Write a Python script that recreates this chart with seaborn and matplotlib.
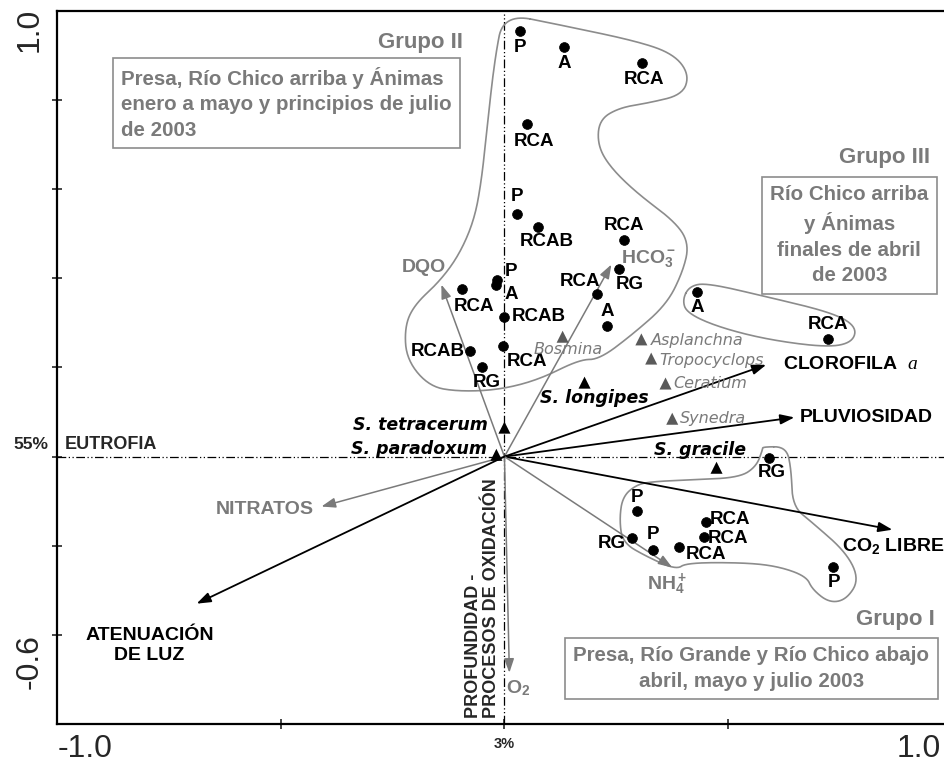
import numpy as np
import pandas as pd
import matplotlib
matplotlib.use("Agg")
import matplotlib.pyplot as plt
import seaborn as sns

# --- muestras (sitios) ---
muestra_nombre = ['P', 'A', 'RCA', 'RCA', 'P', 'RCAB', 'RCA', 'RG', 'RCA', 'A',
                  'P', 'A', 'RCA', 'RCAB', 'RCA', 'RCAB', 'RG',
                  'A', 'RCA',
                  'RG', 'P', 'RG', 'P', 'RCA', 'RCA', 'RCA', 'P']
muestra_x = [0.034, 0.134, 0.308, 0.051, 0.029, 0.074, 0.268, 0.257, 0.206, 0.230,
             -0.016, -0.018, -0.094, 0.0, -0.004, -0.076, -0.051,
             0.431, 0.722,
             0.592, 0.297, 0.284, 0.331, 0.391, 0.451, 0.445, 0.735]
muestra_y = [0.954, 0.920, 0.884, 0.747, 0.545, 0.516, 0.485, 0.422, 0.364, 0.294,
             0.397, 0.384, 0.375, 0.314, 0.249, 0.236, 0.200,
             0.370, 0.265,
             -0.002, -0.123, -0.182, -0.209, -0.202, -0.146, -0.180, -0.247]
# desplazamiento de etiqueta (pixeles) y alineacion
muestra_off = [(0, -16, 'center'), (0, -17, 'center'), (2, -17, 'center'), (7, -18, 'center'),
               (0, 17, 'center'), (9, -15, 'center'), (0, 15, 'center'), (10, -16, 'center'),
               (-17, 13, 'center'), (0, 14, 'center'), (14, 8, 'center'), (15, -9, 'center'),
               (12, -17, 'center'), (7, 0, 'left'), (24, -16, 'center'), (-6, 0, 'right'),
               (5, -15, 'center'), (0, -16, 'center'), (0, 14, 'center'), (2, -15, 'center'),
               (0, 14, 'center'), (-6, -6, 'right'), (0, 15, 'center'), (6, -8, 'left'),
               (4, 2, 'left'), (4, -2, 'left'), (1, -16, 'center')]

# --- especies ---
especie_nombre = ['Bosmina', 'S. longipes', 'S. tetracerum', 'S. paradoxum', 'Asplanchna',
                  'Tropocyclops', 'Ceratium', 'Synedra', 'S. gracile']
especie_x = [0.130, 0.179, 0.0, -0.018, 0.306, 0.328, 0.360, 0.375, 0.474]
especie_y = [0.269, 0.166, 0.065, 0.004, 0.263, 0.220, 0.164, 0.085, -0.025]
especie_tipo = ['gris', 'negro', 'negro', 'negro', 'gris', 'gris', 'gris', 'gris', 'negro']
especie_off = [(6, -13, 'center'), (10, -15, 'center'), (-17, 3, 'right'), (-9, 6, 'right'),
               (9, -1, 'left'), (8, -2, 'left'), (8, 0, 'left'), (8, 0, 'left'), (-17, 18, 'center')]

# --- variables ambientales (flechas) ---
var_nombre = ['DQO', 'HCO$_3^-$', 'CLOROFILA  $\\mathit{a}$', 'PLUVIOSIDAD',
              '$\\mathbf{CO_2}$ LIBRE', 'NH$_4^+$', 'O$_2$', 'NITRATOS', 'ATENUACIÓN\nDE LUZ']
var_x = [-0.141, 0.239, 0.585, 0.648, 0.867, 0.375, 0.011, -0.409, -0.688]
var_y = [0.386, 0.431, 0.206, 0.088, -0.164, -0.249, -0.485, -0.112, -0.330]
var_tipo = ['gris', 'gris', 'negro', 'negro', 'negro', 'gris', 'gris', 'gris', 'negro']
var_off = [(-17, 17, 'center'), (10, 5, 'left'), (17, 0, 'left'), (5, 0, 'left'),
           (-50, -16, 'left'), (-5, -17, 'center'), (-3, -15, 'left'), (-8, -3, 'right'),
           (-47, -42, 'center')]

# --- contornos de grupos ---
grupo2_x = [-0.002, 0.123, 0.302, 0.380, 0.413, 0.398, 0.324, 0.257, 0.212, 0.208, 0.235,
            0.295, 0.384, 0.413, 0.398, 0.362, 0.286, 0.212, 0.168, 0.078, -0.011, -0.101,
            -0.168, -0.219, -0.223, -0.201, -0.145, -0.101, -0.067, -0.051, -0.040, -0.022]
grupo2_y = [0.994, 0.969, 0.931, 0.902, 0.857, 0.812, 0.794, 0.783, 0.756, 0.700, 0.651,
            0.592, 0.525, 0.476, 0.413, 0.341, 0.274, 0.218, 0.218, 0.173, 0.150, 0.146,
            0.157, 0.218, 0.292, 0.341, 0.393, 0.453, 0.532, 0.622, 0.727, 0.891]
grupo3_x = [0.398, 0.413, 0.451, 0.585, 0.733, 0.787, 0.778, 0.720, 0.585, 0.474, 0.407]
grupo3_y = [0.352, 0.382, 0.390, 0.359, 0.323, 0.292, 0.256, 0.245, 0.263, 0.292, 0.323]
grupo1_x = [0.577, 0.630, 0.641, 0.644, 0.688, 0.764, 0.793, 0.764, 0.726, 0.688, 0.675,
            0.615, 0.541, 0.407, 0.384, 0.317, 0.264, 0.257, 0.264, 0.295, 0.331, 0.420,
            0.525, 0.563, 0.577]
grupo1_y = [0.022, 0.022, -0.029, -0.112, -0.148, -0.215, -0.276, -0.321, -0.328, -0.298,
            -0.269, -0.247, -0.238, -0.238, -0.254, -0.224, -0.193, -0.141, -0.090, -0.063,
            -0.056, -0.052, -0.047, -0.022, 0.016]

GRIS = '#7a7a7a'
GRIS_OSC = '#5a5a5a'


def suavizar(xs, ys, n=4):
    # Chaikin para curvas cerradas
    p = np.column_stack([xs, ys])
    for _ in range(n):
        q = np.roll(p, -1, axis=0)
        a = 0.75 * p + 0.25 * q
        b = 0.25 * p + 0.75 * q
        p = np.empty((2 * len(a), 2))
        p[0::2] = a
        p[1::2] = b
    p = np.vstack([p, p[:1]])
    return p[:, 0], p[:, 1]


sns.set_theme(style='white')
plt.rcParams['font.family'] = ['Liberation Sans', 'DejaVu Sans']
plt.rcParams['mathtext.fontset'] = 'custom'
plt.rcParams['mathtext.rm'] = 'Liberation Sans:bold'
plt.rcParams['mathtext.bf'] = 'Liberation Sans:bold'
plt.rcParams['mathtext.it'] = 'Liberation Serif:italic'

fig = plt.figure(figsize=(9.45, 7.73), dpi=100)
ax = fig.add_axes([0.0603, 0.0634, 0.947, 0.9224])
ax.set_xlim(-1.0, 1.0)
ax.set_ylim(-0.6, 1.0)

# lineas de referencia
ax.axhline(0, color='black', lw=0.9, ls=(0, (7, 2, 1, 2, 1, 2)), zorder=1)
ax.axvline(0, color='black', lw=0.9, ls=(0, (7, 2, 1, 2, 1, 2)), zorder=1)

# contornos
for gx, gy in [(grupo2_x, grupo2_y), (grupo3_x, grupo3_y), (grupo1_x, grupo1_y)]:
    sx, sy = suavizar(gx, gy)
    ax.plot(sx, sy, color='#8c8c8c', lw=1.2, zorder=2)

# flechas
for nom, vx, vy, t, (dx, dy, ha) in zip(var_nombre, var_x, var_y, var_tipo, var_off):
    col = 'black' if t == 'negro' else GRIS
    ax.annotate('', xy=(vx, vy), xytext=(0, 0),
                arrowprops=dict(arrowstyle='-|>,head_length=0.7,head_width=0.25',
                                color=col, lw=1.3 if t == 'negro' else 1.1,
                                shrinkA=0, shrinkB=0), zorder=3)
    ax.annotate(nom, xy=(vx, vy), xytext=(dx, dy), textcoords='offset pixels',
                ha=ha, va='center', fontsize=14, color=col, fontweight='bold', zorder=5)

# muestras
muestras = pd.DataFrame({'x': muestra_x, 'y': muestra_y, 'sitio': muestra_nombre})
sns.scatterplot(data=muestras, x='x', y='y', color='black', s=50, edgecolor='black',
                linewidth=0.5, ax=ax, zorder=4, legend=False)
for nom, mx, my, (dx, dy, ha) in zip(muestra_nombre, muestra_x, muestra_y, muestra_off):
    ax.annotate(nom, xy=(mx, my), xytext=(dx, dy), textcoords='offset pixels',
                ha=ha, va='center', fontsize=13.5, fontweight='bold', color='black', zorder=5)

# especies
especies = pd.DataFrame({'x': especie_x, 'y': especie_y, 'tipo': especie_tipo})
sns.scatterplot(data=especies, x='x', y='y', hue='tipo', marker='^', s=75,
                palette={'negro': 'black', 'gris': GRIS_OSC}, edgecolor='none',
                ax=ax, zorder=4, legend=False)
for nom, ex, ey, t, (dx, dy, ha) in zip(especie_nombre, especie_x, especie_y, especie_tipo, especie_off):
    if t == 'negro':
        kw = dict(color='black', fontweight='bold', fontsize=12.5)
    else:
        kw = dict(color=GRIS, fontweight='normal', fontsize=11.5)
    ax.annotate(nom, xy=(ex, ey), xytext=(dx, dy), textcoords='offset pixels',
                ha=ha, va='center', style='italic', family='DejaVu Sans', zorder=5, **kw)

# grupos
caja = dict(boxstyle='square,pad=0.4', facecolor='white', edgecolor='#8c8c8c', lw=1.2)
ax.text(-0.094, 0.929, 'Grupo II', ha='right', va='center', fontsize=16, fontweight='bold', color=GRIS)
ax.text(-0.856, 0.875, 'Presa, Río Chico arriba y Ánimas\nenero a mayo y principios de julio\nde 2003',
        ha='left', va='top', fontsize=14.8, fontweight='bold', color=GRIS, bbox=caja, linespacing=1.45)
ax.text(0.950, 0.671, 'Grupo III', ha='right', va='center', fontsize=16, fontweight='bold', color=GRIS)
ax.text(0.771, 0.610, 'Río Chico arriba\ny Ánimas\nfinales de abril\nde 2003',
        ha='center', va='top', multialignment='center', fontsize=14.8, fontweight='bold',
        color=GRIS, bbox=caja, linespacing=1.45)
ax.text(0.961, -0.366, 'Grupo I', ha='right', va='center', fontsize=16, fontweight='bold', color=GRIS)
ax.text(0.552, -0.425, 'Presa, Río Grande y Río Chico abajo\nabril, mayo y julio 2003',
        ha='center', va='top', multialignment='center', fontsize=14.8, fontweight='bold',
        color=GRIS, bbox=caja, linespacing=1.45)

# ejes y rotulos
ax.text(-0.983, 0.027, 'EUTROFIA', ha='left', va='center', fontsize=13, fontweight='bold')
ax.text(-1.059, 0.027, '55%', ha='center', va='center', fontsize=12.5, fontweight='bold', clip_on=False)
ax.text(-0.011, -0.586, 'PROFUNDIDAD -\nPROCESOS DE OXIDACIÓN', rotation=90, ha='right', va='bottom',
        multialignment='left', fontsize=13, fontweight='bold', linespacing=1.05)
ax.text(0.0, -0.646, '3%', ha='center', va='center', fontsize=10.5, fontweight='bold', clip_on=False)
ax.text(-0.938, -0.655, '-1.0', ha='center', va='center', fontsize=23, clip_on=False)
ax.text(0.925, -0.655, '1.0', ha='center', va='center', fontsize=23, clip_on=False)
ax.text(-1.061, 0.958, '1.0', ha='center', va='center', fontsize=23, rotation=90, clip_on=False)
ax.text(-1.061, -0.46, '-0.6', ha='center', va='center', fontsize=23, rotation=90, clip_on=False)

ax.set_xticks([-0.5, 0.0, 0.5])
ax.set_yticks(np.arange(-0.4, 0.81, 0.2))
ax.tick_params(direction='inout', length=7, width=1.2, labelbottom=False, labelleft=False,
               bottom=True, left=True)
ax.set_xlabel('')
ax.set_ylabel('')
for lado in ['left', 'bottom', 'top']:
    ax.spines[lado].set_color('black')
    ax.spines[lado].set_linewidth(1.6)
ax.spines['right'].set_visible(False)

fig.savefig('out.png', dpi=100)
